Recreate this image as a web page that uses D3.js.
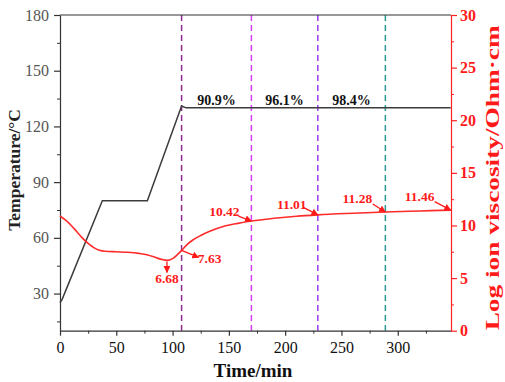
<!DOCTYPE html>
<html lang="en">
<head>
<meta charset="UTF-8" />
<title>Temperature and ion viscosity</title>
<style>
body { margin: 0; background: #fff; }
svg { display: block; font-family: "Liberation Serif", "Times New Roman", serif; }
</style>
</head>
<body>
<svg id="chart" width="505" height="382"></svg>
<script src="https://cdn.jsdelivr.net/npm/d3@7/dist/d3.min.js"></script>
<script>
// temperature profile (min, °C)
const tempTime = [0, 2, 37.6, 77.6, 108, 112, 347];
const tempValue = [25, 27, 80, 80, 131, 130, 130];

// log ion viscosity (min, Ohm·cm)
const viscTime = [0, 5, 10, 15, 20, 25, 30, 35, 40, 50, 60, 70, 78, 85, 90, 95, 100, 104, 108, 113, 118, 125, 133, 145, 158, 170, 190, 210, 229, 260, 289, 320, 347];
const viscValue = [10.9, 10.5, 10.0, 9.4, 8.8, 8.3, 7.9, 7.65, 7.55, 7.5, 7.45, 7.35, 7.2, 6.95, 6.78, 6.68, 6.85, 7.2, 7.63, 8.2, 8.62, 9.05, 9.45, 9.9, 10.2, 10.42, 10.68, 10.88, 11.01, 11.16, 11.28, 11.38, 11.46];

// vertical marker lines
const markTime = [108, 170, 229, 289];
const markColor = ["#8e2c8e", "#d23ff0", "#9b3cf5", "#2a9a90"];

// conversion labels between markers
const convText = ["90.9%", "96.1%", "98.4%"];

// labelled viscosity points
const noteTime = [95, 108, 170, 229, 289, 347];
const noteValue = [6.68, 7.63, 10.42, 11.01, 11.28, 11.46];

const xTicks = [0, 50, 100, 150, 200, 250, 300];
const tTicks = [30, 60, 90, 120, 150, 180];
const vTicks = [0, 5, 10, 15, 20, 25, 30];

const margin = {top: 15, right: 54, bottom: 51.3, left: 60};
const W = 505, H = 382;
const w = W - margin.left - margin.right, h = H - margin.top - margin.bottom;
const serif = '"Liberation Serif", "Times New Roman", serif';

const svg = d3.select('#chart');
const g = svg.append('g').attr('transform', `translate(${margin.left},${margin.top})`);

const x = d3.scaleLinear().domain([0, 347.3]).range([0, w]);
const yT = d3.scaleLinear().domain([10, 180]).range([h, 0]);
const yV = d3.scaleLinear().domain([0, 30]).range([h, 0]);

svg.append('defs').append('marker')
  .attr('id', 'arr').attr('viewBox', '0 0 10 10').attr('refX', 9).attr('refY', 5)
  .attr('markerWidth', 7).attr('markerHeight', 7).attr('markerUnits', 'userSpaceOnUse')
  .attr('orient', 'auto')
  .append('path').attr('d', 'M0,0L10,5L0,10Z').attr('fill', '#ff1a1a');

// dashed markers
g.selectAll('.mark').data(markTime).enter().append('line')
  .attr('x1', d => x(d)).attr('x2', d => x(d)).attr('y1', 0).attr('y2', h)
  .attr('stroke', (d, i) => markColor[i]).attr('stroke-width', 1.5)
  .attr('stroke-dasharray', '6,4');

// top frame
g.append('line').attr('x1', 0).attr('x2', w).attr('y1', 0).attr('y2', 0)
  .attr('stroke', '#333').attr('stroke-width', 1.2);

function styleAxis(sel, color, textColor, size, weight) {
  sel.attr('font-family', serif).attr('font-size', size);
  sel.select('.domain').attr('stroke', color).attr('stroke-width', 1.2);
  sel.selectAll('.tick line').attr('stroke', color).attr('stroke-width', 1.2);
  sel.selectAll('.tick text').attr('fill', textColor).style('font-weight', weight);
}

// bottom axis
const xa = g.append('g').attr('transform', `translate(0,${h})`)
  .call(d3.axisBottom(x).tickValues(xTicks).tickSize(5).tickPadding(6).tickSizeOuter(0));
styleAxis(xa, '#333', '#111', 16, 'normal');
const xm = g.append('g').attr('transform', `translate(0,${h})`)
  .call(d3.axisBottom(x).tickValues(d3.range(25, 347, 50)).tickSize(3).tickFormat('').tickSizeOuter(0));
xm.select('.domain').remove();
xm.selectAll('line').attr('stroke', '#333');

// left axis
const la = g.append('g')
  .call(d3.axisLeft(yT).tickValues(tTicks).tickSize(6).tickPadding(5).tickSizeOuter(0));
styleAxis(la, '#333', '#555', 16, 'normal');
const lm = g.append('g')
  .call(d3.axisLeft(yT).tickValues(d3.range(15, 180, 30)).tickSize(3).tickFormat('').tickSizeOuter(0));
lm.select('.domain').remove();
lm.selectAll('line').attr('stroke', '#333');

// right axis
const ra = g.append('g').attr('transform', `translate(${w},0)`)
  .call(d3.axisRight(yV).tickValues(vTicks).tickSize(6).tickPadding(3).tickSizeOuter(0));
styleAxis(ra, '#ff2020', '#ff1a1a', 16, 'bold');
const rm = g.append('g').attr('transform', `translate(${w},0)`)
  .call(d3.axisRight(yV).tickValues(d3.range(2.5, 30, 5)).tickSize(3).tickFormat('').tickSizeOuter(0));
rm.select('.domain').remove();
rm.selectAll('line').attr('stroke', '#ff2020');

// temperature line
const tData = tempTime.map((t, i) => [t, tempValue[i]]);
g.append('path').datum(tData)
  .attr('d', d3.line().x(d => x(d[0])).y(d => yT(d[1])))
  .attr('fill', 'none').attr('stroke', '#3c3c3c').attr('stroke-width', 1.5);

// viscosity line
const vData = viscTime.map((t, i) => [t, viscValue[i]]);
g.append('path').datum(vData)
  .attr('d', d3.line().curve(d3.curveMonotoneX).x(d => x(d[0])).y(d => yV(d[1])))
  .attr('fill', 'none').attr('stroke', '#ff2a2a').attr('stroke-width', 1.6);

// conversion labels
convText.forEach((s, i) => {
  g.append('text')
    .attr('x', x((markTime[i] + markTime[i + 1]) / 2))
    .attr('y', yT(130) - 3)
    .attr('text-anchor', 'middle')
    .style('font-size', '14px').style('font-weight', 'bold').attr('fill', '#111')
    .text(s);
});

// viscosity annotations: arrow from (ax1,ay1) to (ax2,ay2), text at (tx,ty), offsets in px
const noteLayout = [
  {ax1: 0, ay1: 1, ax2: 0, ay2: 12, tx: 0, ty: 22.5},
  {ax1: 0, ay1: 0, ax2: 17, ay2: 7, tx: 28, ty: 12.5},
  {ax1: -13, ay1: -5, ax2: 0, ay2: 0, tx: -27, ty: -5.5},
  {ax1: -14.5, ay1: -7.5, ax2: 0, ay2: 0, tx: -26, ty: -5.5},
  {ax1: -12.6, ay1: -8, ax2: 0, ay2: 0, tx: -28, ty: -8.5},
  {ax1: -16, ay1: -8.5, ax2: 0, ay2: 0, tx: -31, ty: -9}
];
noteTime.forEach((t, i) => {
  const px = x(t), py = yV(noteValue[i]), L = noteLayout[i];
  g.append('line')
    .attr('x1', px + L.ax1).attr('y1', py + L.ay1)
    .attr('x2', px + L.ax2).attr('y2', py + L.ay2)
    .attr('stroke', '#ff1a1a').attr('stroke-width', 1.3)
    .attr('marker-end', 'url(#arr)');
  g.append('text')
    .attr('x', px + L.tx).attr('y', py + L.ty)
    .attr('text-anchor', 'middle')
    .style('font-size', '13.5px').style('font-weight', 'bold').attr('fill', '#ff1a1a')
    .text(noteValue[i].toFixed(2));
});

// axis titles
svg.append('text')
  .attr('x', 253).attr('y', 377)
  .attr('text-anchor', 'middle')
  .style('font-size', '19px').style('font-weight', 'bold').attr('fill', '#111')
  .text('Time/min');

svg.append('text')
  .attr('transform', `translate(20,${margin.top + h / 2 - 3}) rotate(-90)`)
  .attr('text-anchor', 'middle')
  .style('font-size', '17.5px').style('font-weight', 'bold').attr('fill', '#222')
  .text('Temperature/°C');

svg.append('text')
  .attr('transform', `translate(499,${margin.top + h / 2 + 5}) rotate(-90)`)
  .attr('text-anchor', 'middle')
  .attr('textLength', 305).attr('lengthAdjust', 'spacingAndGlyphs')
  .style('font-size', '18px').style('font-weight', 'bold').attr('fill', '#ff1a1a')
  .text('Log ion viscosity/Ohm·cm');
</script>
</body>
</html>
